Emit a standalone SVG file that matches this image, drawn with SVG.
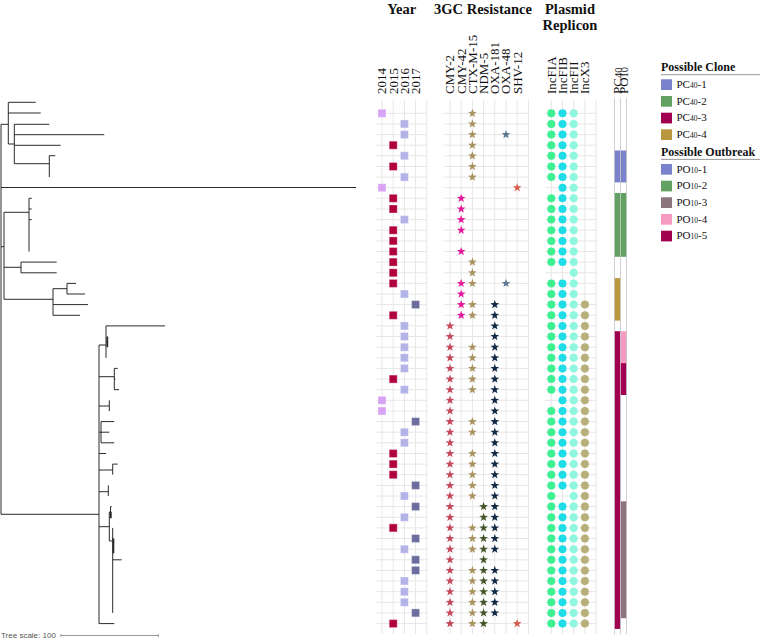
<svg xmlns="http://www.w3.org/2000/svg" xmlns:xlink="http://www.w3.org/1999/xlink" width="760" height="639" viewBox="0 0 760 639">
<style>
text{font-family:"Liberation Serif","Times New Roman",serif;fill:#111}
.h{font-weight:bold;font-size:14.5px}
.c{font-size:13px}
.sub{font-size:10.5px}
.lg{font-size:11px}
.lgs{font-size:7.5px}
.lt{font-weight:bold;font-size:12px}
.g{stroke:#e6e6e6;stroke-width:1;fill:none}
.pl{stroke:#c4c4c4;stroke-width:1;fill:none}
.t{fill:none;stroke:#2a2a2a;stroke-width:1}
.y14{fill:#d9a3f5}.y15{fill:#b0003f}.y16{fill:#b3b3e8}.y17{fill:#6c6c9e}
.sA{fill:#c6495b}.sB{fill:#e3199c}.sC{fill:#a8925e}.sD{fill:#44552a}.sE{fill:#0f2a42}.sF{fill:#5c7a93}.sG{fill:#d85c4c}
.pa{fill:#3df092}.pb{fill:#1fdde6}.pc{fill:#8ff7df}.pd{fill:#b8b07a}
.k1{fill:#7a82cc}.k2{fill:#63a163}.k3{fill:#a0004f}.k4{fill:#b8973e}.o3{fill:#8c757d}.o4{fill:#f59ac0}
</style>
<defs>
<rect id="sq" x="-4" y="-4" width="8" height="8" stroke="#ffffff" stroke-opacity="0.35" stroke-width="1"/>
<path id="st" d="M0,-4.6 L1.087,-1.497 L4.375,-1.421 L1.759,0.572 L2.704,3.721 L0,1.85 L-2.704,3.721 L-1.759,0.572 L-4.375,-1.421 L-1.087,-1.497 Z"/>
<circle id="ci" r="4"/>
</defs>
<rect width="760" height="639" fill="#ffffff"/>

<g id="tree" class="t">
<path d="M1,124.3 V514.3 M1,124.3 H8.3 M8.3,102.3 V144 M8.3,102.3 H35.7 M8.3,113 H40.7 M8.3,144 H14.3 M14.3,124.3 V163.7 M14.3,124.3 H49.3 M14.3,134.7 H104.3 M14.3,145.3 H60.7 M14.3,163.7 H49.3 M49.3,155.7 V177 M49.3,155.7 H55.3"/>
<path d="M1,187.5 H356"/>
<path d="M1,246.7 H4 M4,212.3 V299.3 M4,212.3 H29 M29,198.3 V251.7 M29,198.3 H31.7 M29,209 H31.7 M29,219.6 H31.7 M4,267.3 H21 M21,262.1 V272.8 M21,262.1 H56.7 M21,272.8 H56.7 M4,299.3 H53 M53,288.7 V315.3 M53,288.7 H67 M67,283.4 V294 M67,283.4 H76 M67,294 H85 M53,304.6 H88 M53,315.3 H80"/>
<path d="M1,514.3 H99 M99,345 V623.6 M99,345 H106 M106,325.9 V357.8 M106,325.9 H165 M106,342 H107.3 M99,376.7 H114.3 M114.3,368.4 V389.7 M114.3,368.4 H117.7 M114.3,379.1 H115.5 M114.3,389.7 H119 M99,406 H109.3 M109.3,400.3 V411 M99,432.2 H101 M101,421.6 V442.8 M101,421.6 H114.3 M101,432.2 H109.3 M101,442.8 H114.3 M99,453.5 H106 M99,470 H112.7 M112.7,464.1 V474.7 M112.7,464.1 H117.7 M99,491.7 H108.3 M108.3,485.4 V496 M99,526.7 H109.3 M109.3,512 V541 M109.3,512 H110.5 M110.5,506.6 V517.3 M110.5,506.6 H111.7 M109.3,541 H112.7 M112.7,527.9 V612.9 M112.7,559.8 H121.7 M99,623.6 H114.3"/>
<path d="M107.3,336.5 V347.2 M110.8,511.7 V518.3 M113.4,538.3 V553.3" stroke-width="1.8"/>
</g>

<g id="tree-scale">
<text x="1" y="638" style="font-family:'Liberation Sans',Arial,sans-serif;font-size:8px;fill:#555">Tree scale: 100</text>
<path d="M61,635.5 H158.3 M61,634 V637 M158.3,634 V637" stroke="#999" stroke-width="1" fill="none"/>
</g>

<g id="grid">
<path class="g" d="M382,100 V634 M393.2,100 V634 M404.4,100 V634 M415.6,100 V634 M426.8,100 V634 M450,100 V634 M461.2,100 V634 M472.4,100 V634 M483.6,100 V634 M494.8,100 V634 M506,100 V634 M517.2,100 V634 M528.4,100 V634 M551.3,100 V634 M562.5,100 V634 M573.7,100 V634 M584.9,100 V634 M596.1,100 V634"/>
<path class="g" d="M376,113.3H427M444,113.3H528.4M545,113.3H596.1 M376,123.9H427M444,123.9H528.4M545,123.9H596.1 M376,134.6H427M444,134.6H528.4M545,134.6H596.1 M376,145.2H427M444,145.2H528.4M545,145.2H596.1 M376,155.8H427M444,155.8H528.4M545,155.8H596.1 M376,166.5H427M444,166.5H528.4M545,166.5H596.1 M376,177.1H427M444,177.1H528.4M545,177.1H596.1 M376,187.7H427M444,187.7H528.4M545,187.7H596.1 M376,198.3H427M444,198.3H528.4M545,198.3H596.1 M376,209H427M444,209H528.4M545,209H596.1 M376,219.6H427M444,219.6H528.4M545,219.6H596.1 M376,230.2H427M444,230.2H528.4M545,230.2H596.1 M376,240.9H427M444,240.9H528.4M545,240.9H596.1 M376,251.5H427M444,251.5H528.4M545,251.5H596.1 M376,262.1H427M444,262.1H528.4M545,262.1H596.1 M376,272.8H427M444,272.8H528.4M545,272.8H596.1 M376,283.4H427M444,283.4H528.4M545,283.4H596.1 M376,294H427M444,294H528.4M545,294H596.1 M376,304.6H427M444,304.6H528.4M545,304.6H596.1 M376,315.3H427M444,315.3H528.4M545,315.3H596.1 M376,325.9H427M444,325.9H528.4M545,325.9H596.1 M376,336.5H427M444,336.5H528.4M545,336.5H596.1 M376,347.2H427M444,347.2H528.4M545,347.2H596.1 M376,357.8H427M444,357.8H528.4M545,357.8H596.1 M376,368.4H427M444,368.4H528.4M545,368.4H596.1 M376,379.1H427M444,379.1H528.4M545,379.1H596.1 M376,389.7H427M444,389.7H528.4M545,389.7H596.1 M376,400.3H427M444,400.3H528.4M545,400.3H596.1 M376,411H427M444,411H528.4M545,411H596.1 M376,421.6H427M444,421.6H528.4M545,421.6H596.1 M376,432.2H427M444,432.2H528.4M545,432.2H596.1 M376,442.8H427M444,442.8H528.4M545,442.8H596.1 M376,453.5H427M444,453.5H528.4M545,453.5H596.1 M376,464.1H427M444,464.1H528.4M545,464.1H596.1 M376,474.7H427M444,474.7H528.4M545,474.7H596.1 M376,485.4H427M444,485.4H528.4M545,485.4H596.1 M376,496H427M444,496H528.4M545,496H596.1 M376,506.6H427M444,506.6H528.4M545,506.6H596.1 M376,517.3H427M444,517.3H528.4M545,517.3H596.1 M376,527.9H427M444,527.9H528.4M545,527.9H596.1 M376,538.5H427M444,538.5H528.4M545,538.5H596.1 M376,549.2H427M444,549.2H528.4M545,549.2H596.1 M376,559.8H427M444,559.8H528.4M545,559.8H596.1 M376,570.4H427M444,570.4H528.4M545,570.4H596.1 M376,581H427M444,581H528.4M545,581H596.1 M376,591.7H427M444,591.7H528.4M545,591.7H596.1 M376,602.3H427M444,602.3H528.4M545,602.3H596.1 M376,612.9H427M444,612.9H528.4M545,612.9H596.1 M376,623.6H427M444,623.6H528.4M545,623.6H596.1"/>
</g>

<g id="headers">
<text class="h" x="401.7" y="13.5" text-anchor="middle">Year</text>
<text class="h" x="483" y="13.5" text-anchor="middle">3GC Resistance</text>
<text class="h" x="570" y="13.5" text-anchor="middle">Plasmid</text>
<text class="h" x="570" y="30" text-anchor="middle">Replicon</text>
<text class="c" transform="translate(386.3,94) rotate(-90)">2014</text>
<text class="c" transform="translate(397.5,94) rotate(-90)">2015</text>
<text class="c" transform="translate(408.7,94) rotate(-90)">2016</text>
<text class="c" transform="translate(419.9,94) rotate(-90)">2017</text>
<text class="c" transform="translate(454.3,94) rotate(-90)">CMY-2</text>
<text class="c" transform="translate(465.5,94) rotate(-90)">CMY-42</text>
<text class="c" transform="translate(476.7,94) rotate(-90)">CTX-M-15</text>
<text class="c" transform="translate(487.9,94) rotate(-90)">NDM-5</text>
<text class="c" transform="translate(499.1,94) rotate(-90)">OXA-181</text>
<text class="c" transform="translate(510.3,94) rotate(-90)">OXA-48</text>
<text class="c" transform="translate(521.5,94) rotate(-90)">SHV-12</text>
<text class="c" transform="translate(555.6,94) rotate(-90)">IncFIA</text>
<text class="c" transform="translate(566.8,94) rotate(-90)">IncFIB</text>
<text class="c" transform="translate(578,94) rotate(-90)">IncFII</text>
<text class="c" transform="translate(589.2,94) rotate(-90)">IncX3</text>
<text class="c" transform="translate(621.5,94) rotate(-90)">PC<tspan class="sub">40</tspan></text>
<text class="c" transform="translate(627.7,94) rotate(-90)">PO<tspan class="sub">10</tspan></text>
</g>

<g id="year">
<use href="#sq" class="y14" x="382" y="113.3"/>
<use href="#sq" class="y16" x="404.4" y="123.9"/>
<use href="#sq" class="y16" x="404.4" y="134.6"/>
<use href="#sq" class="y15" x="393.2" y="145.2"/>
<use href="#sq" class="y16" x="404.4" y="155.8"/>
<use href="#sq" class="y15" x="393.2" y="166.5"/>
<use href="#sq" class="y16" x="404.4" y="177.1"/>
<use href="#sq" class="y14" x="382" y="187.7"/>
<use href="#sq" class="y15" x="393.2" y="198.3"/>
<use href="#sq" class="y15" x="393.2" y="209"/>
<use href="#sq" class="y16" x="404.4" y="219.6"/>
<use href="#sq" class="y15" x="393.2" y="230.2"/>
<use href="#sq" class="y15" x="393.2" y="240.9"/>
<use href="#sq" class="y15" x="393.2" y="251.5"/>
<use href="#sq" class="y15" x="393.2" y="262.1"/>
<use href="#sq" class="y15" x="393.2" y="272.8"/>
<use href="#sq" class="y15" x="393.2" y="283.4"/>
<use href="#sq" class="y16" x="404.4" y="294"/>
<use href="#sq" class="y17" x="415.6" y="304.6"/>
<use href="#sq" class="y15" x="393.2" y="315.3"/>
<use href="#sq" class="y16" x="404.4" y="325.9"/>
<use href="#sq" class="y16" x="404.4" y="336.5"/>
<use href="#sq" class="y16" x="404.4" y="347.2"/>
<use href="#sq" class="y16" x="404.4" y="357.8"/>
<use href="#sq" class="y16" x="404.4" y="368.4"/>
<use href="#sq" class="y15" x="393.2" y="379.1"/>
<use href="#sq" class="y16" x="404.4" y="389.7"/>
<use href="#sq" class="y14" x="382" y="400.3"/>
<use href="#sq" class="y14" x="382" y="411"/>
<use href="#sq" class="y17" x="415.6" y="421.6"/>
<use href="#sq" class="y16" x="404.4" y="432.2"/>
<use href="#sq" class="y16" x="404.4" y="442.8"/>
<use href="#sq" class="y15" x="393.2" y="453.5"/>
<use href="#sq" class="y15" x="393.2" y="464.1"/>
<use href="#sq" class="y15" x="393.2" y="474.7"/>
<use href="#sq" class="y17" x="415.6" y="485.4"/>
<use href="#sq" class="y16" x="404.4" y="496"/>
<use href="#sq" class="y17" x="415.6" y="506.6"/>
<use href="#sq" class="y16" x="404.4" y="517.3"/>
<use href="#sq" class="y15" x="393.2" y="527.9"/>
<use href="#sq" class="y17" x="415.6" y="538.5"/>
<use href="#sq" class="y16" x="404.4" y="549.2"/>
<use href="#sq" class="y17" x="415.6" y="559.8"/>
<use href="#sq" class="y17" x="415.6" y="570.4"/>
<use href="#sq" class="y16" x="404.4" y="581"/>
<use href="#sq" class="y16" x="404.4" y="591.7"/>
<use href="#sq" class="y16" x="404.4" y="602.3"/>
<use href="#sq" class="y17" x="415.6" y="612.9"/>
<use href="#sq" class="y15" x="393.2" y="623.6"/>
</g>

<g id="resistance">
<g class="sA">
<use href="#st" x="450" y="325.9"/><use href="#st" x="450" y="336.5"/><use href="#st" x="450" y="347.2"/><use href="#st" x="450" y="357.8"/><use href="#st" x="450" y="368.4"/><use href="#st" x="450" y="379.1"/><use href="#st" x="450" y="389.7"/><use href="#st" x="450" y="400.3"/><use href="#st" x="450" y="411"/><use href="#st" x="450" y="421.6"/><use href="#st" x="450" y="432.2"/><use href="#st" x="450" y="442.8"/><use href="#st" x="450" y="453.5"/><use href="#st" x="450" y="464.1"/><use href="#st" x="450" y="474.7"/><use href="#st" x="450" y="485.4"/><use href="#st" x="450" y="496"/><use href="#st" x="450" y="506.6"/><use href="#st" x="450" y="517.3"/><use href="#st" x="450" y="527.9"/><use href="#st" x="450" y="538.5"/><use href="#st" x="450" y="549.2"/><use href="#st" x="450" y="559.8"/><use href="#st" x="450" y="570.4"/><use href="#st" x="450" y="581"/><use href="#st" x="450" y="591.7"/><use href="#st" x="450" y="602.3"/><use href="#st" x="450" y="612.9"/><use href="#st" x="450" y="623.6"/>
</g>
<g class="sB">
<use href="#st" x="461.2" y="198.3"/><use href="#st" x="461.2" y="209"/><use href="#st" x="461.2" y="219.6"/><use href="#st" x="461.2" y="230.2"/><use href="#st" x="461.2" y="251.5"/><use href="#st" x="461.2" y="283.4"/><use href="#st" x="461.2" y="294"/><use href="#st" x="461.2" y="304.6"/><use href="#st" x="461.2" y="315.3"/>
</g>
<g class="sC">
<use href="#st" x="472.4" y="113.3"/><use href="#st" x="472.4" y="123.9"/><use href="#st" x="472.4" y="134.6"/><use href="#st" x="472.4" y="145.2"/><use href="#st" x="472.4" y="155.8"/><use href="#st" x="472.4" y="166.5"/><use href="#st" x="472.4" y="177.1"/><use href="#st" x="472.4" y="262.1"/><use href="#st" x="472.4" y="272.8"/><use href="#st" x="472.4" y="283.4"/><use href="#st" x="472.4" y="304.6"/><use href="#st" x="472.4" y="315.3"/><use href="#st" x="472.4" y="347.2"/><use href="#st" x="472.4" y="357.8"/><use href="#st" x="472.4" y="368.4"/><use href="#st" x="472.4" y="379.1"/><use href="#st" x="472.4" y="389.7"/><use href="#st" x="472.4" y="421.6"/><use href="#st" x="472.4" y="432.2"/><use href="#st" x="472.4" y="453.5"/><use href="#st" x="472.4" y="464.1"/><use href="#st" x="472.4" y="474.7"/><use href="#st" x="472.4" y="485.4"/><use href="#st" x="472.4" y="496"/><use href="#st" x="472.4" y="527.9"/><use href="#st" x="472.4" y="538.5"/><use href="#st" x="472.4" y="549.2"/><use href="#st" x="472.4" y="570.4"/><use href="#st" x="472.4" y="581"/><use href="#st" x="472.4" y="591.7"/><use href="#st" x="472.4" y="602.3"/><use href="#st" x="472.4" y="612.9"/><use href="#st" x="472.4" y="623.6"/>
</g>
<g class="sD">
<use href="#st" x="483.6" y="506.6"/><use href="#st" x="483.6" y="517.3"/><use href="#st" x="483.6" y="527.9"/><use href="#st" x="483.6" y="538.5"/><use href="#st" x="483.6" y="549.2"/><use href="#st" x="483.6" y="559.8"/><use href="#st" x="483.6" y="570.4"/><use href="#st" x="483.6" y="581"/><use href="#st" x="483.6" y="591.7"/><use href="#st" x="483.6" y="602.3"/><use href="#st" x="483.6" y="612.9"/><use href="#st" x="483.6" y="623.6"/>
</g>
<g class="sE">
<use href="#st" x="494.8" y="304.6"/><use href="#st" x="494.8" y="315.3"/><use href="#st" x="494.8" y="325.9"/><use href="#st" x="494.8" y="336.5"/><use href="#st" x="494.8" y="347.2"/><use href="#st" x="494.8" y="357.8"/><use href="#st" x="494.8" y="368.4"/><use href="#st" x="494.8" y="379.1"/><use href="#st" x="494.8" y="389.7"/><use href="#st" x="494.8" y="400.3"/><use href="#st" x="494.8" y="411"/><use href="#st" x="494.8" y="421.6"/><use href="#st" x="494.8" y="432.2"/><use href="#st" x="494.8" y="442.8"/><use href="#st" x="494.8" y="453.5"/><use href="#st" x="494.8" y="464.1"/><use href="#st" x="494.8" y="474.7"/><use href="#st" x="494.8" y="485.4"/><use href="#st" x="494.8" y="496"/><use href="#st" x="494.8" y="506.6"/><use href="#st" x="494.8" y="517.3"/><use href="#st" x="494.8" y="527.9"/><use href="#st" x="494.8" y="538.5"/><use href="#st" x="494.8" y="549.2"/><use href="#st" x="494.8" y="570.4"/><use href="#st" x="494.8" y="581"/><use href="#st" x="494.8" y="591.7"/><use href="#st" x="494.8" y="602.3"/><use href="#st" x="494.8" y="612.9"/>
</g>
<g class="sF"><use href="#st" x="506" y="134.6"/><use href="#st" x="506" y="283.4"/></g>
<g class="sG"><use href="#st" x="517.2" y="187.7"/><use href="#st" x="517.2" y="623.6"/></g>
</g>

<g id="plasmid">
<g class="pa">
<use href="#ci" x="551.3" y="113.3"/><use href="#ci" x="551.3" y="123.9"/><use href="#ci" x="551.3" y="134.6"/><use href="#ci" x="551.3" y="145.2"/><use href="#ci" x="551.3" y="155.8"/><use href="#ci" x="551.3" y="166.5"/><use href="#ci" x="551.3" y="177.1"/><use href="#ci" x="551.3" y="198.3"/><use href="#ci" x="551.3" y="209"/><use href="#ci" x="551.3" y="219.6"/><use href="#ci" x="551.3" y="230.2"/><use href="#ci" x="551.3" y="240.9"/><use href="#ci" x="551.3" y="251.5"/><use href="#ci" x="551.3" y="262.1"/><use href="#ci" x="551.3" y="283.4"/><use href="#ci" x="551.3" y="294"/><use href="#ci" x="551.3" y="304.6"/><use href="#ci" x="551.3" y="315.3"/><use href="#ci" x="551.3" y="325.9"/><use href="#ci" x="551.3" y="336.5"/><use href="#ci" x="551.3" y="347.2"/><use href="#ci" x="551.3" y="357.8"/><use href="#ci" x="551.3" y="368.4"/><use href="#ci" x="551.3" y="379.1"/><use href="#ci" x="551.3" y="389.7"/><use href="#ci" x="551.3" y="411"/><use href="#ci" x="551.3" y="421.6"/><use href="#ci" x="551.3" y="432.2"/><use href="#ci" x="551.3" y="442.8"/><use href="#ci" x="551.3" y="453.5"/><use href="#ci" x="551.3" y="464.1"/><use href="#ci" x="551.3" y="474.7"/><use href="#ci" x="551.3" y="485.4"/><use href="#ci" x="551.3" y="496"/><use href="#ci" x="551.3" y="506.6"/><use href="#ci" x="551.3" y="517.3"/><use href="#ci" x="551.3" y="527.9"/><use href="#ci" x="551.3" y="538.5"/><use href="#ci" x="551.3" y="549.2"/><use href="#ci" x="551.3" y="559.8"/><use href="#ci" x="551.3" y="570.4"/><use href="#ci" x="551.3" y="581"/><use href="#ci" x="551.3" y="591.7"/><use href="#ci" x="551.3" y="602.3"/><use href="#ci" x="551.3" y="612.9"/><use href="#ci" x="551.3" y="623.6"/>
</g>
<g class="pb">
<use href="#ci" x="562.5" y="113.3"/><use href="#ci" x="562.5" y="123.9"/><use href="#ci" x="562.5" y="134.6"/><use href="#ci" x="562.5" y="145.2"/><use href="#ci" x="562.5" y="155.8"/><use href="#ci" x="562.5" y="166.5"/><use href="#ci" x="562.5" y="177.1"/><use href="#ci" x="562.5" y="187.7"/><use href="#ci" x="562.5" y="198.3"/><use href="#ci" x="562.5" y="209"/><use href="#ci" x="562.5" y="219.6"/><use href="#ci" x="562.5" y="230.2"/><use href="#ci" x="562.5" y="240.9"/><use href="#ci" x="562.5" y="251.5"/><use href="#ci" x="562.5" y="262.1"/><use href="#ci" x="562.5" y="283.4"/><use href="#ci" x="562.5" y="294"/><use href="#ci" x="562.5" y="304.6"/><use href="#ci" x="562.5" y="315.3"/><use href="#ci" x="562.5" y="325.9"/><use href="#ci" x="562.5" y="336.5"/><use href="#ci" x="562.5" y="347.2"/><use href="#ci" x="562.5" y="357.8"/><use href="#ci" x="562.5" y="368.4"/><use href="#ci" x="562.5" y="379.1"/><use href="#ci" x="562.5" y="389.7"/><use href="#ci" x="562.5" y="400.3"/><use href="#ci" x="562.5" y="411"/><use href="#ci" x="562.5" y="421.6"/><use href="#ci" x="562.5" y="432.2"/><use href="#ci" x="562.5" y="442.8"/><use href="#ci" x="562.5" y="453.5"/><use href="#ci" x="562.5" y="464.1"/><use href="#ci" x="562.5" y="474.7"/><use href="#ci" x="562.5" y="485.4"/><use href="#ci" x="562.5" y="506.6"/><use href="#ci" x="562.5" y="517.3"/><use href="#ci" x="562.5" y="527.9"/><use href="#ci" x="562.5" y="538.5"/><use href="#ci" x="562.5" y="549.2"/><use href="#ci" x="562.5" y="559.8"/><use href="#ci" x="562.5" y="570.4"/><use href="#ci" x="562.5" y="581"/><use href="#ci" x="562.5" y="591.7"/><use href="#ci" x="562.5" y="602.3"/><use href="#ci" x="562.5" y="612.9"/><use href="#ci" x="562.5" y="623.6"/>
</g>
<g class="pc">
<use href="#ci" x="573.7" y="113.3"/><use href="#ci" x="573.7" y="123.9"/><use href="#ci" x="573.7" y="134.6"/><use href="#ci" x="573.7" y="145.2"/><use href="#ci" x="573.7" y="155.8"/><use href="#ci" x="573.7" y="166.5"/><use href="#ci" x="573.7" y="177.1"/><use href="#ci" x="573.7" y="187.7"/><use href="#ci" x="573.7" y="198.3"/><use href="#ci" x="573.7" y="209"/><use href="#ci" x="573.7" y="219.6"/><use href="#ci" x="573.7" y="230.2"/><use href="#ci" x="573.7" y="240.9"/><use href="#ci" x="573.7" y="251.5"/><use href="#ci" x="573.7" y="262.1"/><use href="#ci" x="573.7" y="272.8"/><use href="#ci" x="573.7" y="283.4"/><use href="#ci" x="573.7" y="294"/><use href="#ci" x="573.7" y="304.6"/><use href="#ci" x="573.7" y="315.3"/><use href="#ci" x="573.7" y="325.9"/><use href="#ci" x="573.7" y="336.5"/><use href="#ci" x="573.7" y="347.2"/><use href="#ci" x="573.7" y="357.8"/><use href="#ci" x="573.7" y="368.4"/><use href="#ci" x="573.7" y="379.1"/><use href="#ci" x="573.7" y="389.7"/><use href="#ci" x="573.7" y="400.3"/><use href="#ci" x="573.7" y="411"/><use href="#ci" x="573.7" y="421.6"/><use href="#ci" x="573.7" y="432.2"/><use href="#ci" x="573.7" y="442.8"/><use href="#ci" x="573.7" y="453.5"/><use href="#ci" x="573.7" y="464.1"/><use href="#ci" x="573.7" y="474.7"/><use href="#ci" x="573.7" y="485.4"/><use href="#ci" x="573.7" y="496"/><use href="#ci" x="573.7" y="506.6"/><use href="#ci" x="573.7" y="517.3"/><use href="#ci" x="573.7" y="527.9"/><use href="#ci" x="573.7" y="538.5"/><use href="#ci" x="573.7" y="549.2"/><use href="#ci" x="573.7" y="559.8"/><use href="#ci" x="573.7" y="570.4"/><use href="#ci" x="573.7" y="581"/><use href="#ci" x="573.7" y="591.7"/><use href="#ci" x="573.7" y="602.3"/><use href="#ci" x="573.7" y="612.9"/><use href="#ci" x="573.7" y="623.6"/>
</g>
<g class="pd">
<use href="#ci" x="584.9" y="304.6"/><use href="#ci" x="584.9" y="315.3"/><use href="#ci" x="584.9" y="325.9"/><use href="#ci" x="584.9" y="336.5"/><use href="#ci" x="584.9" y="347.2"/><use href="#ci" x="584.9" y="357.8"/><use href="#ci" x="584.9" y="368.4"/><use href="#ci" x="584.9" y="379.1"/><use href="#ci" x="584.9" y="389.7"/><use href="#ci" x="584.9" y="400.3"/><use href="#ci" x="584.9" y="411"/><use href="#ci" x="584.9" y="421.6"/><use href="#ci" x="584.9" y="432.2"/><use href="#ci" x="584.9" y="442.8"/><use href="#ci" x="584.9" y="453.5"/><use href="#ci" x="584.9" y="464.1"/><use href="#ci" x="584.9" y="474.7"/><use href="#ci" x="584.9" y="485.4"/><use href="#ci" x="584.9" y="496"/><use href="#ci" x="584.9" y="506.6"/><use href="#ci" x="584.9" y="517.3"/><use href="#ci" x="584.9" y="527.9"/><use href="#ci" x="584.9" y="538.5"/><use href="#ci" x="584.9" y="549.2"/><use href="#ci" x="584.9" y="559.8"/><use href="#ci" x="584.9" y="570.4"/><use href="#ci" x="584.9" y="581"/><use href="#ci" x="584.9" y="591.7"/><use href="#ci" x="584.9" y="602.3"/><use href="#ci" x="584.9" y="612.9"/><use href="#ci" x="584.9" y="623.6"/>
</g>
</g>

<g id="clone-bars">
<rect class="k1" x="614.3" y="150.5" width="6.2" height="31.9"/>
<rect class="k2" x="614.3" y="193" width="6.2" height="63.8"/>
<rect class="k4" x="614.3" y="278.1" width="6.2" height="42.5"/>
<rect class="k3" x="614.3" y="331.2" width="6.2" height="297.7"/>
<rect class="k1" x="620.5" y="150.5" width="6.2" height="31.9"/>
<rect class="k2" x="620.5" y="193" width="6.2" height="63.8"/>
<rect class="o4" x="620.5" y="331.2" width="6.2" height="31.9"/>
<rect class="k3" x="620.5" y="363.1" width="6.2" height="31.9"/>
<rect class="o3" x="620.5" y="501.3" width="6.2" height="116.9"/>
<path class="pl" d="M614.5,98 V634 M620.5,98 V634 M626.5,98 V634" stroke-opacity="0.8"/>
</g>

<g id="legend">
<text class="lt" x="661" y="71.3">Possible Clone</text>
<path d="M661,74.7 H760" stroke="#9a9a9a" stroke-width="1"/>
<rect class="k1" x="661" y="79.3" width="11" height="10.7"/>
<text class="lg" x="676.5" y="88">PC<tspan class="lgs">40</tspan>-1</text>
<rect class="k2" x="661" y="96" width="11" height="10.7"/>
<text class="lg" x="676.5" y="104.7">PC<tspan class="lgs">40</tspan>-2</text>
<rect class="k3" x="661" y="112.7" width="11" height="10.7"/>
<text class="lg" x="676.5" y="121.4">PC<tspan class="lgs">40</tspan>-3</text>
<rect class="k4" x="661" y="129.3" width="11" height="10.7"/>
<text class="lg" x="676.5" y="138">PC<tspan class="lgs">40</tspan>-4</text>
<text class="lt" x="661" y="156">Possible Outbreak</text>
<path d="M661,159.4 H760" stroke="#9a9a9a" stroke-width="1"/>
<rect class="k1" x="661" y="164" width="11" height="10.7"/>
<text class="lg" x="676.5" y="172.7">PO<tspan class="lgs">10</tspan>-1</text>
<rect class="k2" x="661" y="180.7" width="11" height="10.7"/>
<text class="lg" x="676.5" y="189.4">PO<tspan class="lgs">10</tspan>-2</text>
<rect class="o3" x="661" y="197.3" width="11" height="10.7"/>
<text class="lg" x="676.5" y="206">PO<tspan class="lgs">10</tspan>-3</text>
<rect class="o4" x="661" y="214" width="11" height="10.7"/>
<text class="lg" x="676.5" y="222.7">PO<tspan class="lgs">10</tspan>-4</text>
<rect class="k3" x="661" y="230.7" width="11" height="10.7"/>
<text class="lg" x="676.5" y="239.4">PO<tspan class="lgs">10</tspan>-5</text>
</g>
</svg>
